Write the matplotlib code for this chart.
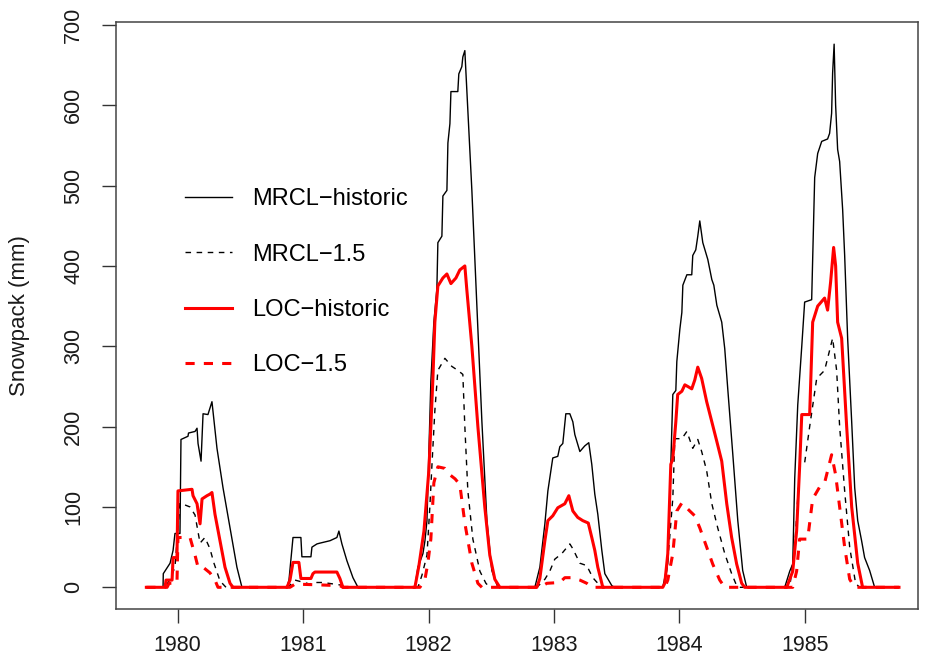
import matplotlib
matplotlib.use("Agg")
import matplotlib.pyplot as plt

plt.rcParams['font.family'] = ['Liberation Sans', 'DejaVu Sans']

# Snowpack (mm) by decimal year
mrcl_hist_t = [1979.75, 1979.883, 1979.885, 1979.939, 1979.963, 1979.978, 1980.018, 1980.026, 1980.082, 1980.086,
               1980.138, 1980.154, 1980.162, 1980.186, 1980.202, 1980.241, 1980.273, 1980.313, 1980.361, 1980.417,
               1980.472, 1980.512,
               1980.871, 1980.887, 1980.919, 1980.982, 1980.990, 1981.062, 1981.070, 1981.110, 1981.134, 1981.214,
               1981.269, 1981.285, 1981.309, 1981.349, 1981.397, 1981.437,
               1981.891, 1981.915, 1981.955, 1981.971, 1981.987, 1982.002, 1982.018, 1982.042, 1982.066, 1982.074,
               1982.106, 1982.114, 1982.146, 1982.154, 1982.170, 1982.178, 1982.233, 1982.241, 1982.265, 1982.273,
               1982.289, 1982.305, 1982.345, 1982.385, 1982.425, 1982.465, 1982.504, 1982.552,
               1982.847, 1982.887, 1982.927, 1982.951, 1982.990, 1983.030, 1983.046, 1983.070, 1983.094, 1983.126,
               1983.150, 1983.166, 1983.206, 1983.245, 1983.277, 1983.301, 1983.325, 1983.349, 1983.381, 1983.405,
               1983.461, 1983.485,
               1983.867, 1983.883, 1983.907, 1983.931, 1983.947, 1983.971, 1983.979, 1984.003, 1984.019, 1984.027,
               1984.059, 1984.098, 1984.106, 1984.130, 1984.146, 1984.162, 1984.186, 1984.226, 1984.258, 1984.274,
               1984.298, 1984.337, 1984.361, 1984.385, 1984.425, 1984.465, 1984.504, 1984.536,
               1984.839, 1984.879, 1984.903, 1984.919, 1984.943, 1984.975, 1984.998, 1985.054, 1985.078, 1985.102,
               1985.134, 1985.181, 1985.197, 1985.213, 1985.221, 1985.233, 1985.245, 1985.261, 1985.277, 1985.301,
               1985.317, 1985.341, 1985.373, 1985.397, 1985.421, 1985.452, 1985.476, 1985.516, 1985.556, 1985.75]
mrcl_hist_v = [0, 0, 17, 30, 46, 67, 67, 184, 188, 192,
               194, 198, 179, 157, 216, 215, 231, 173, 124, 74,
               25, 0,
               0, 9, 62, 62, 38, 38, 50, 54, 55, 58,
               62, 70, 54, 33, 12, 0,
               0, 25, 42, 58, 83, 165, 256, 330, 371, 429,
               437, 487, 494, 553, 577, 617, 617, 639, 648, 660,
               668, 618, 494, 351, 206, 83, 21, 0,
               0, 25, 79, 120, 161, 163, 175, 179, 216, 216,
               206, 190, 169, 176, 180, 153, 116, 91, 46, 17,
               2, 0,
               0, 12, 30, 153, 240, 245, 281, 321, 342, 376,
               389, 389, 413, 420, 437, 456, 429, 408, 383, 376,
               351, 330, 297, 247, 166, 83, 21, 0,
               0, 20, 29, 136, 227, 300, 355, 358, 510, 540,
               555, 558, 565, 590, 640, 676, 600, 545, 530, 470,
               413, 309, 206, 124, 83, 58, 37, 21, 0, 0]

mrcl_15_t = [1979.75, 1979.899, 1979.939, 1979.978, 1980.018, 1980.098, 1980.138, 1980.178, 1980.217, 1980.257,
             1980.289, 1980.337, 1980.385,
             1980.879, 1980.935, 1981.054, 1981.078, 1981.157, 1981.293, 1981.333,
             1981.915, 1981.947, 1981.987, 1982.010, 1982.026, 1982.050, 1982.074, 1982.130, 1982.185, 1982.233,
             1982.273, 1982.289, 1982.313, 1982.353, 1982.409, 1982.457, 1982.488,
             1982.863, 1982.927, 1982.966, 1983.006, 1983.062, 1983.126, 1983.150, 1983.206, 1983.261, 1983.309,
             1983.349, 1983.381,
             1983.875, 1983.899, 1983.922, 1983.947, 1983.963, 1984.019, 1984.059, 1984.106, 1984.146, 1984.177,
             1984.217, 1984.258, 1984.305, 1984.361, 1984.416, 1984.456, 1984.480,
             1984.879, 1984.919, 1984.958, 1984.998, 1985.038, 1985.094, 1985.157, 1985.221, 1985.253, 1985.277,
             1985.317, 1985.357, 1985.404, 1985.436, 1985.75]
mrcl_15_v = [0, 0, 10, 25, 105, 100, 90, 55, 62, 48,
             30, 8, 0,
             0, 9, 4, 6, 6, 3, 0,
             0, 15, 40, 100, 150, 220, 270, 285, 275, 270,
             265, 200, 120, 60, 20, 5, 0,
             0, 10, 20, 35, 42, 54, 48, 30, 27, 12,
             5, 0,
             0, 21, 62, 111, 185, 185, 194, 173, 184, 169,
             145, 104, 74, 42, 17, 2, 0,
             0, 50, 150, 155, 200, 260, 270, 310, 270, 200,
             120, 50, 5, 0, 0]

loc_hist_t = [1979.75, 1979.899, 1979.907, 1979.955, 1979.963, 1979.994, 1980.002, 1980.114, 1980.122, 1980.154,
              1980.178, 1980.194, 1980.233, 1980.257, 1980.273, 1980.297, 1980.337, 1980.377, 1980.417, 1980.441,
              1980.871, 1980.895, 1980.919, 1980.966, 1980.982, 1981.062, 1981.078, 1981.094, 1981.269, 1981.293,
              1981.317,
              1981.891, 1981.923, 1981.963, 1982.002, 1982.018, 1982.034, 1982.050, 1982.074, 1982.114, 1982.146,
              1982.178, 1982.218, 1982.249, 1982.289, 1982.305, 1982.345, 1982.393, 1982.448, 1982.488, 1982.528,
              1982.568,
              1982.863, 1982.887, 1982.927, 1982.951, 1982.990, 1983.030, 1983.086, 1983.118, 1983.150, 1983.189,
              1983.229, 1983.273, 1983.301, 1983.325, 1983.349, 1983.381, 1983.389,
              1983.867, 1983.883, 1983.907, 1983.931, 1983.947, 1983.971, 1983.986, 1984.019, 1984.043, 1984.066,
              1984.098, 1984.122, 1984.146, 1984.177, 1984.217, 1984.258, 1984.297, 1984.337, 1984.377, 1984.416,
              1984.456, 1984.496, 1984.520,
              1984.855, 1984.903, 1984.934, 1984.958, 1984.975, 1985.038, 1985.062, 1985.102, 1985.157, 1985.181,
              1985.205, 1985.229, 1985.245, 1985.261, 1985.293, 1985.333, 1985.373, 1985.421, 1985.460, 1985.75]
loc_hist_v = [0, 0, 9, 9, 37, 37, 120, 122, 114, 104,
              79, 110, 114, 116, 118, 91, 58, 25, 5, 0,
              0, 9, 31, 31, 11, 11, 17, 19, 19, 11,
              0,
              0, 27, 70, 145, 200, 258, 330, 375, 385, 390,
              378, 385, 395, 400, 370, 300, 200, 100, 40, 10,
              0,
              0, 11, 58, 83, 89, 99, 104, 114, 95, 87,
              83, 80, 62, 46, 25, 5, 0,
              0, 5, 42, 153, 160, 206, 240, 244, 252, 250,
              247, 258, 274, 260, 231, 206, 182, 157, 104, 62,
              29, 5, 0,
              0, 20, 70, 150, 215, 215, 330, 350, 360, 345,
              380, 423, 400, 330, 310, 200, 100, 30, 0, 0]

loc_15_t = [1979.75, 1979.915, 1979.931, 1979.994, 1980.002, 1980.098, 1980.138, 1980.162, 1980.202, 1980.257,
            1980.297, 1980.321,
            1980.895, 1980.935, 1981.134, 1981.293, 1981.317,
            1981.931, 1981.971, 1981.994, 1982.018, 1982.042, 1982.074, 1982.130, 1982.170, 1982.211, 1982.249,
            1982.289, 1982.345, 1982.393, 1982.425,
            1982.887, 1982.943, 1983.046, 1983.086, 1983.142, 1983.206, 1983.261, 1983.301,
            1983.883, 1983.907, 1983.947, 1983.979, 1984.019, 1984.082, 1984.122, 1984.162, 1984.217, 1984.265,
            1984.321, 1984.361,
            1984.903, 1984.934, 1984.958, 1985.022, 1985.062, 1985.118, 1985.157, 1985.213, 1985.245, 1985.277,
            1985.317, 1985.357, 1985.396, 1985.75]
loc_15_v = [0, 0, 5, 5, 62, 62, 40, 25, 25, 18,
            9, 0,
            0, 4, 3, 2, 0,
            0, 10, 30, 60, 130, 150, 148, 140, 135, 128,
            80, 30, 5, 0,
            0, 5, 6, 12, 12, 9, 5, 0,
            0, 9, 42, 95, 105, 95, 89, 74, 50, 29,
            9, 0,
            0, 20, 60, 60, 110, 125, 130, 165, 140, 100,
            50, 10, 0, 0]

year_ticks = [1980, 1981, 1982, 1983, 1984, 1985]
snow_ticks = [0, 100, 200, 300, 400, 500, 600, 700]

fig = plt.figure(figsize=(9.28, 6.65), dpi=100)
ax = fig.add_axes([0.125, 0.0842, 0.864, 0.882])

ax.plot(mrcl_hist_t, mrcl_hist_v, color='black', linewidth=1.0, label='MRCL\u2212historic')
ax.plot(mrcl_15_t, mrcl_15_v, color='black', linewidth=1.0, linestyle=(0, (4, 4)), label='MRCL\u22121.5')
ax.plot(loc_hist_t, loc_hist_v, color='#ff0000', linewidth=2.2, label='LOC\u2212historic')
ax.plot(loc_15_t, loc_15_v, color='#ff0000', linewidth=2.2, linestyle=(0, (3, 3)), label='LOC\u22121.5')

ax.set_xlim(1979.508, 1985.90)
ax.set_ylim(-27, 703)
ax.set_xticks(year_ticks)
ax.set_yticks(snow_ticks)
ax.set_yticklabels([str(v) for v in snow_ticks], rotation=90, va='center')
ax.tick_params(axis='both', direction='out', length=10, width=1, labelsize=15.5, colors='#333333',
               labelcolor='#1a1a1a')
ax.tick_params(axis='x', pad=9)
ax.tick_params(axis='y', pad=13)
for s in ax.spines.values():
    s.set_linewidth(1.1)
    s.set_color('#444444')

ax.set_ylabel('Snowpack (mm)', fontsize=16, color='#1a1a1a', labelpad=24)

ax.legend(loc='upper left', bbox_to_anchor=(0.086, 0.717), frameon=False, fontsize=17,
          handlelength=2.0, handletextpad=0.85, labelspacing=1.41, borderpad=0, borderaxespad=0)

fig.savefig('out.png', dpi=100)
